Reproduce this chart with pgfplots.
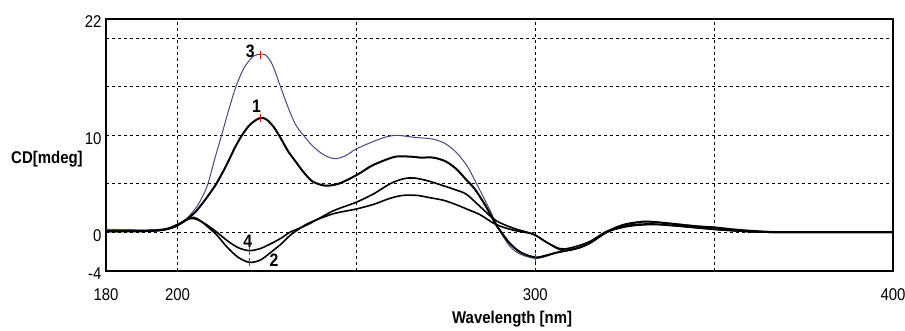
\documentclass[border=0pt]{standalone}
\usepackage{fontspec}
\setmainfont[FakeStretch=0.88]{Liberation Sans}
\usepackage{pgfplots}
\pgfplotsset{compat=1.18}
\definecolor{cthree}{RGB}{70,72,130}
\begin{document}
\begin{tikzpicture}
\useasboundingbox (-106pt,-60pt) rectangle (799pt,271pt);
\begin{axis}[
  at={(0pt,0pt)}, anchor=south west,
  scale only axis, width=787pt, height=252pt,
  xmin=180, xmax=400, ymin=-4, ymax=22,
  xtick={180,200,250,300,350,400},
  xticklabels={180,200,,300,,400},
  ytick={-4,0,5,10,15,20,22},
  yticklabels={-4,0,,10,,,22},
  major tick length=0pt,
  grid=major,
  major grid style={black, dash pattern=on 3pt off 3pt, line width=1pt},
  axis line style={black, line width=1.3pt},
  /pgf/number format/assume math mode=true,
  tick label style={font=\fontsize{17}{19}\selectfont},
  xticklabel style={yshift=-14pt},
  yticklabel style={yshift=-3pt, xshift=-1pt},
  xlabel={\textbf{Wavelength [nm]}},
  ylabel={\textbf{CD[mdeg]}},
  label style={font=\fontsize{17}{19}\selectfont},
  xlabel style={at={(axis description cs:0.516,-0.19)}, anchor=center},
  ylabel style={at={(axis description cs:-0.075,0.444)}, anchor=center, rotate=-90},
  clip=false,
]
% curve 3 (thin blue)
\addplot[cthree, line width=1pt, smooth] coordinates {
(180,0.3) (190,0.25) (195,0.3) (198,0.5) (200,0.8) (202.5,1.4) (205.3,2.6) (207,3.7) (208.5,5.0) (210.5,7.7) (212.3,10) (214.3,12.6) (216.3,15) (218.5,16.9) (220.5,17.9) (222,18.3) (224.5,18.3) (226.5,17.3) (228.8,15) (231,12.8) (233,11.1) (235.2,10) (237.5,9.0) (240,8.2) (242.5,7.7) (244.5,7.6) (247,7.9) (250,8.6) (255,9.4) (258,9.8) (261.3,10.0) (266,9.8) (271.5,9.6) (275,9.1) (278,8.2) (281,6.8) (283.6,5.0) (287.3,2.3) (290,0.2) (293,-1.5) (296,-2.3) (300,-2.7) (303,-2.5) (306,-2.1) (312.5,-1.6) (318,-0.4) (323.7,0.6) (328,1.0) (331,1.1) (335,1.0) (340,0.85) (350,0.5) (358,0.2) (366,0.03) (370,0) (400,0)
};
% curve 1 (thick black)
\addplot[black, line width=2pt, smooth] coordinates {
(180,0.1) (190,0.1) (195,0.2) (198,0.4) (200,0.7) (202.5,1.3) (205,2.1) (207,3.0) (209,4.0) (211,5.1) (213.5,6.8) (216,8.7) (218,10.0) (220,11.0) (222,11.6) (223.5,11.8) (225,11.6) (227,10.8) (229,9.6) (231,8.3) (233,7.3) (235,6.3) (237.5,5.3) (240,4.9) (242,4.8) (245,5.0) (248,5.5) (251,6.1) (254,6.8) (257,7.3) (261,7.8) (265,7.8) (268,7.7) (271.5,7.7) (275,7.3) (278,6.5) (280.5,5.5) (283,4.5) (286,2.8) (289,0.8) (290.5,0) (293,-1.2) (296,-2.1) (300,-2.6) (303,-2.4) (306,-2.1) (310,-1.8) (313,-1.5) (316,-0.9) (319,-0.2) (322,0.4) (325,0.8) (328,1.0) (331,1.1) (335,1.0) (340,0.8) (345,0.6) (350,0.5) (355,0.3) (360,0.15) (366,0.03) (370,0) (400,0)
};
% curve 4
\addplot[black, line width=1.6pt, smooth] coordinates {
(180,0.1) (195,0.2) (200,0.8) (203.5,1.4) (205.5,1.3) (208,0.8) (211,0) (214,-0.9) (217,-1.6) (220,-1.9) (223,-1.7) (226,-1.2) (229,-0.6) (231.4,0) (234,0.4) (237,0.9) (243.5,2.2) (250,3.1) (255,4.0) (259.4,5.0) (263,5.5) (266,5.6) (270,5.3) (274.3,4.8) (277.5,4.4) (280.8,3.9) (285,2.5) (289,1.2) (294,0.4) (299.4,-0.2) (303,-1.0) (306.9,-1.7) (310,-1.6) (315,-1.0) (320,0.1) (324.5,0.6) (328,0.8) (333,0.85) (338,0.7) (345,0.5) (350,0.3) (358,0.1) (366,0) (400,0)
};
% curve 2
\addplot[black, line width=1.6pt, smooth] coordinates {
(180,0.1) (195,0.2) (200,0.8) (203.5,1.5) (205.5,1.4) (208,0.7) (211,-0.3) (214,-1.6) (217,-2.6) (220,-3.1) (223,-2.9) (226,-2.1) (229,-1.2) (231.4,-0.35) (234,0.35) (237,1.0) (243.5,1.9) (250,2.4) (255,2.9) (259.4,3.5) (263,3.8) (267,3.8) (270,3.6) (274.3,3.3) (277.5,2.9) (280.8,2.4) (284.6,1.8) (289,0.8) (294,0.2) (299.4,-0.2) (303,-1.0) (306.9,-1.8) (310,-1.8) (315,-1.2) (320,0) (324.5,0.5) (328,0.7) (333,0.8) (338,0.7) (345,0.45) (350,0.3) (358,0.1) (366,0) (400,0)
};
% red peak markers
\addplot[red, only marks, mark=|, mark size=4pt, mark options={line width=0.8pt}] coordinates {
(223.3,18.3) (223.3,11.8) (220,-1.9) (220,-3.1) (300,-2.7)
};
\node[font=\fontsize{18}{20}\selectfont\bfseries] at (axis cs:220.3,18.7) {3};
\node[font=\fontsize{18}{20}\selectfont\bfseries] at (axis cs:222.1,13.0) {1};
\node[font=\fontsize{18}{20}\selectfont\bfseries] at (axis cs:219.6,-0.9) {4};
\node[font=\fontsize{18}{20}\selectfont\bfseries] at (axis cs:227,-2.9) {2};
\end{axis}
\end{tikzpicture}
\end{document}
